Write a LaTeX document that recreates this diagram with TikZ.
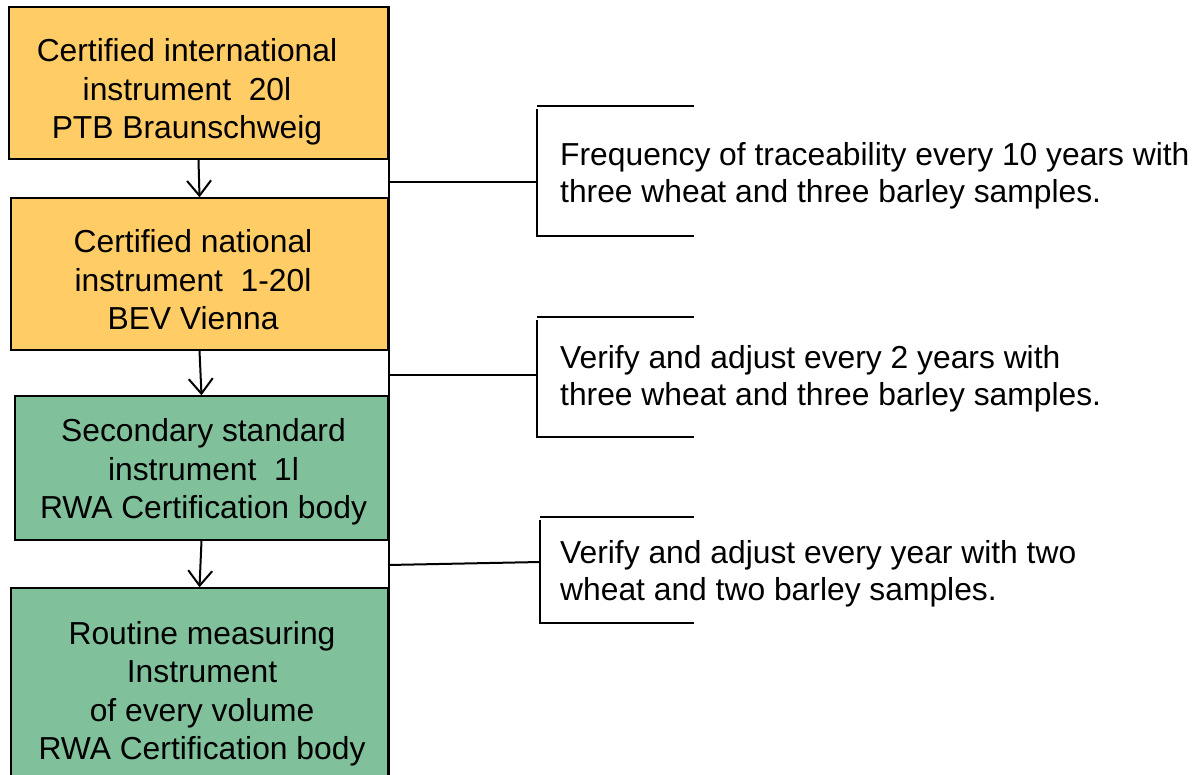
\documentclass[tikz,border=0pt]{standalone}
\usepackage{fontspec}
\setmainfont{Liberation Sans}
\usetikzlibrary{arrows.meta}
\definecolor{boxorange}{RGB}{255,204,102}
\definecolor{boxgreen}{RGB}{128,193,156}
\tikzset{
  box/.style={draw=black, line width=1.5pt, rectangle, inner sep=0pt},
  txt/.style={align=center, inner sep=0pt, font=\fontsize{31.8}{38.5}\selectfont},
  rtxt/.style={align=left, anchor=west, inner sep=0pt, font=\fontsize{31.8}{37.5}\selectfont},
  arr/.style={line width=2pt, -{Straight Barb[length=15pt,width=24pt,line width=2pt]}},
  conn/.style={line width=2pt},
  brk/.style={line width=2pt},
}
\begin{document}
\begin{tikzpicture}[x=1pt,y=-1pt]
\useasboundingbox (0,0) rectangle (1193,774);
% boxes
\node[box, fill=boxorange, minimum width=379pt, minimum height=152pt] (b1) at (198.5,83) {};
\node[box, fill=boxorange, minimum width=377pt, minimum height=152pt] (b2) at (199.5,274) {};
\node[box, fill=boxgreen, minimum width=373pt, minimum height=144pt] (b3) at (201.5,468) {};
\node[box, fill=boxgreen, minimum width=377pt, minimum height=190pt] (b4) at (199.5,683) {};
% box texts
\node[txt] (t1) at (187,92) {Certified international\\instrument\ \ 20l\\PTB Braunschweig};
\node[txt] (t2) at (193,280) {Certified national\\instrument\ \ 1-20l\\BEV Vienna};
\node[txt] (t3) at (203.5,472) {Secondary standard\\instrument\ \ 1l\\RWA Certification body};
\node[txt] (t4) at (202,694) {Routine measuring\\Instrument\\of every volume\\RWA Certification body};
% arrows
\draw[arr] (b1.south) -- (b2.north);
\draw[arr] (b2.south) -- (b3.north);
\draw[arr] (b3.south) -- (b4.north);
% spine
\draw[conn] (b1.north east) -- (b4.south east);
% connector coordinates
\coordinate (s1) at (388,182);
\coordinate (s2) at (388,375);
\coordinate (s3) at (388,565);
\coordinate (k1) at (538,182);
\coordinate (k2) at (538,375);
\coordinate (k3) at (540,562);
\draw[conn] (s1) -- (k1);
\draw[conn] (s2) -- (k2);
\draw[conn] (s3) -- (k3);
% brackets
\coordinate (a1t) at (537,106); \coordinate (a1b) at (537,236);
\coordinate (a2t) at (537,317); \coordinate (a2b) at (537,437);
\coordinate (a3t) at (540,517); \coordinate (a3b) at (540,623);
\draw[brk] (a1t) -- ++(157,0);
\draw[brk] (a1t) ++(0,3) -- (a1b) -- ++(157,0);
\draw[brk] (a2t) -- ++(157,0);
\draw[brk] (a2t) ++(0,3) -- (a2b) -- ++(157,0);
\draw[brk] (a3t) -- ++(154,0);
\draw[brk] (a3t) ++(0,3) -- (a3b) -- ++(154,0);
% right texts
\node[rtxt] (r1) at (560,176) {Frequency of traceability every 10 years with\\three wheat and three barley samples.};
\node[rtxt] (r2) at (560,379) {Verify and adjust every 2 years with\\three wheat and three barley samples.};
\node[rtxt] (r3) at (560,574) {Verify and adjust every year with two\\wheat and two barley samples.};
\end{tikzpicture}
\end{document}
